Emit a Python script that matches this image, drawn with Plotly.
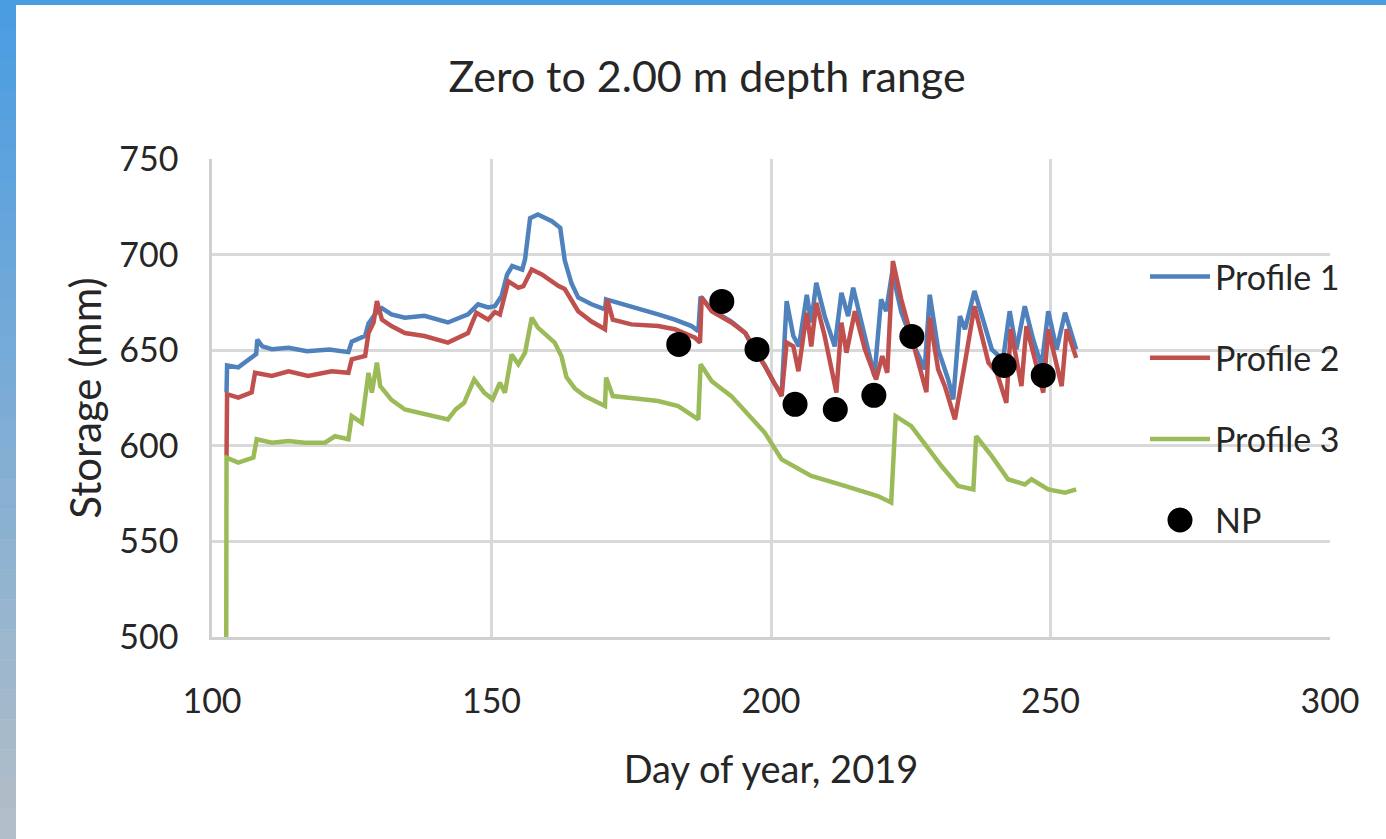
import plotly.graph_objects as go

# ---------------- data ----------------
p1_day = [102.6, 102.7, 104.7, 106, 107.4, 107.9, 108.1, 109, 110.7, 113.7, 117, 121, 124.4, 125,
          127.4, 128, 129.5, 130.4, 132.1, 134.5, 138, 142.2, 145.8, 147.6, 149.4, 150.6, 151.8,
          152.8, 153.7, 155.5, 156, 156.9, 158.3, 160.8, 162.3, 163.1, 164.3, 165.5, 167.9, 170.3,
          170.5, 175, 179.8, 182.8, 185.8, 187, 187.4, 189.4, 192.9, 195.4, 197, 198.9, 200.5, 201.9,
          202.8, 204, 205, 206.4, 207.2, 208.1, 209.6, 211.4, 212.6, 213.8, 214.7, 216.2, 218.5,
          219.7, 220.6, 221.7, 223.3, 225.1, 227.5, 228.4, 229.9, 231.7, 232.6, 233.8, 234.7, 236.4,
          238, 239.5, 241.5, 242.7, 243.9, 245.4, 246.9, 248.4, 249.6, 251.1, 252.6, 254.6]
p1_val = [628, 642, 641, 644, 647, 648, 655.5, 652, 650.5, 651.3, 649.5, 650.4, 649, 654.5,
          657.5, 664, 670, 672, 668.7, 667, 668, 664.5, 668.7, 674, 672.4, 673, 678.3,
          689.6, 694, 692.2, 697.5, 719, 721, 717.5, 714, 697, 685, 677.6, 674, 671.3,
          676.6, 673, 668.7, 666, 662.6, 660, 678, 671, 665, 659, 650, 642, 633, 627,
          675.7, 657.4, 652, 679, 664.5, 685.3, 667.8, 652, 680, 667.8, 682.7, 664.4, 636.5,
          676.6, 670.4, 691, 670, 655.6, 640, 679, 650.4, 634.7, 624.3, 667.8, 661, 681,
          664.4, 650.4, 645, 670.4, 650.4, 673, 655.6, 641.7, 670.4, 650.4, 669.6, 650.4]

p2_day = [102.6, 102.7, 104.7, 107.1, 107.7, 110.7, 113.7, 117.2, 121.4, 124.4, 125, 127.4, 128,
          128.9, 129.5, 130.4, 132.1, 134.5, 138, 142.2, 145.8, 147.3, 149.4, 150.6, 151.5, 153,
          154.8, 155.7, 157.2, 159, 162, 163.1, 165.5, 167.9, 170.3, 170.7, 171.7, 175, 179.8,
          182.8, 186.4, 187.3, 187.6, 189.4, 192.9, 195.4, 198.9, 201.9, 202.8, 204, 204.9, 206.4,
          207.2, 208.1, 209.6, 211.7, 212.6, 213.5, 215, 216.8, 218.8, 219.9, 220.8, 221.8, 223.3,
          225.1, 226.5, 227.8, 228.4, 229.9, 231.1, 232.9, 234.7, 236.4, 238.9, 240.4, 242.1,
          242.9, 244.8, 245.7, 247.5, 248.7, 249.6, 252, 252.9, 254.6]
p2_val = [594.6, 627, 625.2, 628, 638.2, 636.5, 639, 636.5, 639, 638.2, 645.2, 647, 659,
          664.4, 675.7, 666, 662.6, 659, 657.4, 654, 659, 669.6, 666, 670, 668.7, 686,
          682.7, 683.5, 692.2, 689.6, 683.5, 682, 670.4, 665, 661, 676.6, 666, 663.5, 662.6,
          661, 656.5, 654, 677.6, 670.4, 664.5, 659, 641.7, 626, 654, 652, 639, 669.6,
          652, 674.8, 657.4, 627.8, 664.4, 648.7, 670.4, 650.4, 634.7, 646.9, 638.2, 696.6, 676.6,
          657.4, 641.7, 628, 667, 640, 631.2, 613.8, 643.5, 673, 643.5, 638.2, 622.5,
          661, 631.2, 662.6, 641.7, 627.8, 661, 631.2, 661, 646]

p3_day = [102.55, 102.6, 104.7, 107.4, 108, 110.7, 113.7, 116.6, 120.2, 122, 124.4, 125, 126.8,
          128, 128.6, 129.5, 130.1, 132.1, 134.5, 138, 142.2, 143.6, 145.1, 146.9, 148.7, 150.2,
          151.5, 152.4, 153.6, 154.8, 156, 157.2, 158.3, 161.3, 162.5, 163.4, 164.9, 166.7, 170.3,
          170.5, 171.7, 175, 179.8, 183.4, 187, 187.4, 189.4, 192.9, 195.4, 198.9, 201.9, 207.2,
          213.2, 219.1, 221.5, 222.3, 225.1, 228.7, 230.5, 233.5, 236.2, 236.7, 239.5, 242.4,
          245.4, 246.6, 249.6, 252.6, 254.6]
p3_val = [500, 593.8, 591.2, 593.8, 603.4, 601.6, 602.5, 601.6, 601.6, 605, 603.4, 615.5, 612,
          638.2, 627.8, 643.5, 631.2, 624, 619, 616.4, 613.8, 619, 622.5, 634.7, 627.8, 624.3,
          633, 627.8, 647.8, 642.6, 648.7, 667, 661.8, 654, 647, 636, 630, 626, 620.8,
          635.7, 626, 625, 623.4, 620.8, 613.8, 642.6, 633.8, 626, 618, 606.8, 592.9, 584.2,
          579, 573.7, 570.3, 615.5, 610.3, 596, 589.4, 579, 577.2, 605, 594.6, 582.5,
          579.8, 582.5, 577.2, 575.5, 577.2]

np_day = [183.5, 191.2, 197.5, 204.3, 211.5, 218.4, 225.2, 241.7, 248.7]
np_val = [653, 675.5, 650.4, 621.7, 619, 626.4, 657.2, 642, 636.8]

x_ticks = [100, 150, 200, 250, 300]
y_ticks = [500, 550, 600, 650, 700, 750]

# ---------------- figure ----------------
FONT = "Lato"
W, H = 1386, 839
L, R, T, B = 212, 56, 159, 202
PW, PH = W - L - R, H - T - B


def px(xp):
    return (xp - L) / PW


def py(yp):
    return (H - B - yp) / PH


fig = go.Figure()
fig.add_trace(go.Scatter(x=p1_day, y=p1_val, mode="lines", name="Profile 1", legendgroup="a",
                         line=dict(color="#4F81BD", width=4.5)))
fig.add_trace(go.Scatter(x=p2_day, y=p2_val, mode="lines", name="Profile 2", legendgroup="b",
                         line=dict(color="#C0504D", width=4.5)))
fig.add_trace(go.Scatter(x=p3_day, y=p3_val, mode="lines", name="Profile 3", legendgroup="c",
                         line=dict(color="#9BBB59", width=4.5)))
fig.add_trace(go.Scatter(x=np_day, y=np_val, mode="markers", name="NP", legendgroup="d",
                         marker=dict(color="black", size=25)))

shapes = []
# white block behind legend (hides gridlines there)
shapes.append(dict(type="rect", xref="paper", yref="paper", x0=px(1133), x1=px(1336),
                   y0=py(548), y1=py(250), fillcolor="white", line=dict(width=0), layer="between"))
# larger legend dot for NP (legend symbols are capped in size)
shapes.append(dict(type="circle", xref="paper", yref="paper", x0=px(1167.5), x1=px(1192.5),
                   y0=py(532.5), y1=py(507.5), fillcolor="black", line=dict(width=0), layer="above"))
# blue frame on top and left of the picture
shapes.append(dict(type="rect", xref="paper", yref="paper", x0=px(0), x1=px(W),
                   y0=py(5), y1=py(0), fillcolor="#4b9de2", line=dict(width=0), layer="above"))
n = 28
c0 = (75, 157, 226)
c1 = (178, 190, 200)
for i in range(n):
    f = i / (n - 1)
    col = "rgb(%d,%d,%d)" % tuple(int(c0[k] + (c1[k] - c0[k]) * f) for k in range(3))
    shapes.append(dict(type="rect", xref="paper", yref="paper", x0=px(0), x1=px(16),
                       y0=py(H * (i + 1) / n + 0.5), y1=py(H * i / n), fillcolor=col,
                       line=dict(width=0), layer="above"))

fig.update_layout(
    width=W, height=H,
    margin=dict(l=L, r=R, t=T, b=B, autoexpand=False),
    paper_bgcolor="white", plot_bgcolor="white",
    font=dict(family=FONT, size=34, color="#262626"),
    title=dict(text="Zero to 2.00 m depth range", x=707 / W, xref="container", xanchor="center",
               y=1 - 77 / H, yref="container", yanchor="middle",
               font=dict(family=FONT, size=43, color="#262626")),
    xaxis=dict(range=[100, 300], tickvals=x_ticks, showgrid=True, gridcolor="#d9d9d9", gridwidth=2.5,
               showline=True, linecolor="#d0d0d0", linewidth=2.5, zeroline=False,
               ticks="", ticklabelstandoff=32,
               title=dict(text="Day of year, 2019", standoff=38, font=dict(size=38))),
    yaxis=dict(range=[500, 750], tickvals=y_ticks, showgrid=True, gridcolor="#d9d9d9", gridwidth=2.5,
               showline=True, linecolor="#d0d0d0", linewidth=2.5, zeroline=False,
               ticks="", ticklabelstandoff=24,
               title=dict(text="Storage (mm)", standoff=5, font=dict(size=42))),
    legend=dict(x=px(1145), xanchor="left", y=py(248), yanchor="top", bgcolor="rgba(0,0,0,0)",
                font=dict(size=34), tracegroupgap=34, traceorder="grouped", itemwidth=60),
    shapes=shapes,
    showlegend=True,
)

fig.write_html("out.html")
